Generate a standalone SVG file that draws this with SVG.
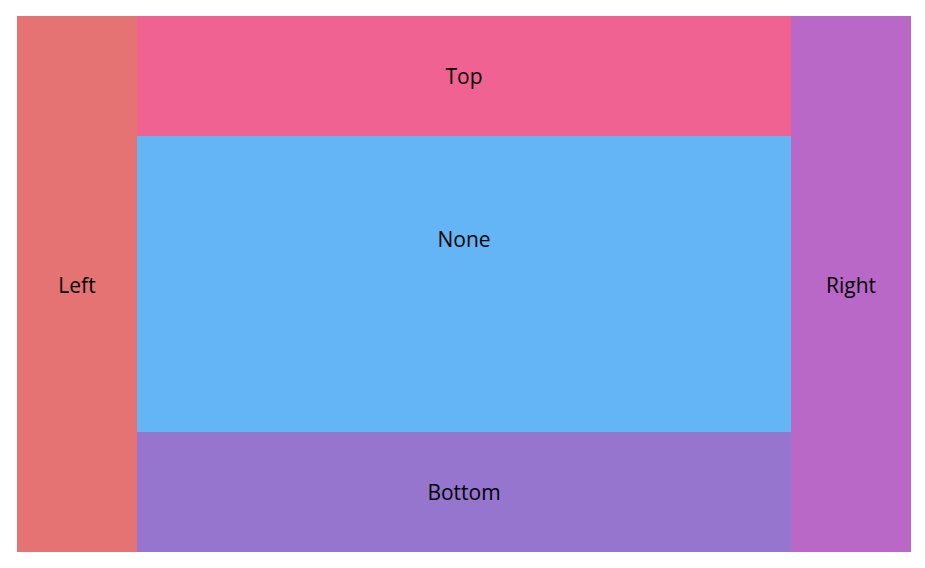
<svg xmlns="http://www.w3.org/2000/svg" width="925" height="568" viewBox="0 0 925 568">
<style>
text{font-family:"Open Sans","Noto Sans",sans-serif;font-size:21px;fill:#000;text-anchor:middle;dominant-baseline:central}
</style>
<rect width="925" height="568" fill="#fff"/>
<g id="left"><rect x="17" y="16" width="120" height="536" fill="#E57373"/><text x="77" y="285">Left</text></g>
<g id="top"><rect x="137" y="16" width="654" height="120" fill="#F06292"/><text x="464" y="76">Top</text></g>
<g id="none"><rect x="137" y="136" width="654" height="296" fill="#64B5F6"/><text x="464" y="239">None</text></g>
<g id="bottom"><rect x="137" y="432" width="654" height="120" fill="#9575CD"/><text x="464" y="492">Bottom</text></g>
<g id="right"><rect x="791" y="16" width="120" height="536" fill="#BA68C8"/><text x="851" y="285">Right</text></g>
<g id="connectors"/>
</svg>
